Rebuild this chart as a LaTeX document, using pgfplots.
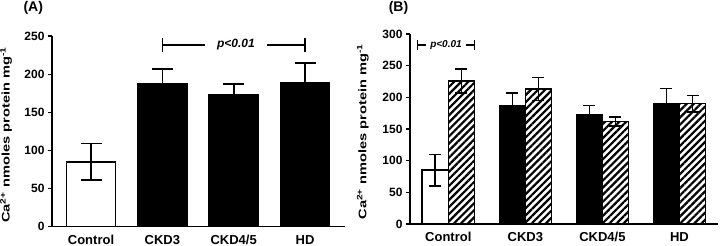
\documentclass[border=0pt]{standalone}
\usepackage{fontspec}
\setmainfont{Liberation Sans}
\usepackage{pgfplots}
\pgfplotsset{compat=1.18}
\usetikzlibrary{patterns.meta}

\pgfplotsset{
  myax/.style={
    scale only axis,
    axis lines*=left,
    axis line style={line width=1.6pt, black, -},
    ymin=0,
    tick align=outside,
    major tick length=4pt,
    ytick style={line width=1.6pt, black},
    xtick={0,1,2,3},
    xticklabels={Control,CKD3,CKD4/5,HD},
    x tick style={draw=none},
    major x tick style={draw=none},
    xticklabel style={font=\fontsize{13}{13}\selectfont\bfseries, yshift=-1pt},
    yticklabel style={font=\fontsize{12}{12}\selectfont\bfseries},
    ylabel={\scalebox{1.33}[1]{Ca\textsuperscript{2+} nmoles protein mg\textsuperscript{-1}}},
    ylabel style={font=\fontsize{11}{11}\selectfont\bfseries, anchor=center},
    /pgf/number format/assume math mode=true,
    clip=false,
  },
  barA/.style={ybar, bar width=0.687, bar shift=0, line width=1.6pt, draw=black,
    error bars/y dir=both, error bars/y explicit,
    error bars/error bar style={line width=1.6pt, black},
    error bars/error mark=|,
    error bars/error mark options={mark size=10.5pt, line width=1.6pt, black}},
  barB/.style={ybar, bar width=0.338, bar shift=0, line width=1.6pt, draw=black,
    error bars/y dir=both, error bars/y explicit,
    error bars/error bar style={line width=1.6pt, black},
    error bars/error mark=|,
    error bars/error mark options={mark size=6pt, line width=1.6pt, black}},
}

\begin{document}
\begin{tikzpicture}
\path[use as bounding box] (0,0) rectangle (720pt,246pt);

% ---------------- Panel A ----------------
\begin{axis}[myax,
  at={(52pt,19.3pt)}, anchor=south west,
  width=293pt, height=190.4pt,
  xmin=-0.547, xmax=3.56,
  ymax=250, ytick={0,50,100,150,200,250},
  ylabel style={at={(axis description cs:-0.157,0.482)}},
]
\addplot[barA, fill=white] coordinates {(0,85) +- (0,24)};
\addplot[barA, fill=black] coordinates {(1,187) +- (0,20) (2,173) +- (0,14) (3,189) +- (0,26)};
\draw[line width=1.6pt] (axis cs:1,238.7) -- (axis cs:3,238.7);
\draw[line width=1.6pt] (axis cs:1,229.7) -- (axis cs:1,247.7);
\draw[line width=1.6pt] (axis cs:3,229.7) -- (axis cs:3,247.7);
\node[fill=white, inner xsep=12pt, inner ysep=1pt, font=\fontsize{12}{12}\selectfont\bfseries\itshape]
  at (axis cs:2.03,238.7) {p<0.01};
\end{axis}

% ---------------- Panel B ----------------
\begin{axis}[myax,
  at={(410pt,22pt)}, anchor=south west,
  width=308pt, height=190pt,
  xmin=-0.497, xmax=3.50,
  ymax=300, ytick={0,50,100,150,200,250,300},
  ylabel style={at={(axis description cs:-0.153,0.486)}},
]
\addplot[barB, fill=white] coordinates {(-0.169,85) +- (0,25)};
\addplot[barB, fill=black] coordinates {(0.831,187) +- (0,20) (1.831,173) +- (0,14) (2.831,189) +- (0,25)};
\addplot[barB, fill=white, pattern={Lines[angle=45,distance=5pt,line width=2.2pt]}, pattern color=black]
  coordinates {(0.169,226) +- (0,19) (1.169,213) +- (0,18) (2.169,162) +- (0,7) (3.169,190) +- (0,13)};
\draw[line width=1.6pt] (axis cs:-0.40,282.8) -- (axis cs:0.338,282.8);
\draw[line width=1.6pt] (axis cs:-0.40,274.9) -- (axis cs:-0.40,290.7);
\draw[line width=1.6pt] (axis cs:0.338,274.9) -- (axis cs:0.338,290.7);
\node[fill=white, inner xsep=4pt, inner ysep=1pt, font=\fontsize{10}{10}\selectfont\bfseries\itshape]
  at (axis cs:-0.03,282.8) {p<0.01};
\end{axis}

\node[font=\fontsize{14}{14}\selectfont\bfseries] at (33.3pt,237.7pt) {(A)};
\node[font=\fontsize{14}{14}\selectfont\bfseries] at (398.5pt,238.3pt) {(B)};
\end{tikzpicture}
\end{document}
